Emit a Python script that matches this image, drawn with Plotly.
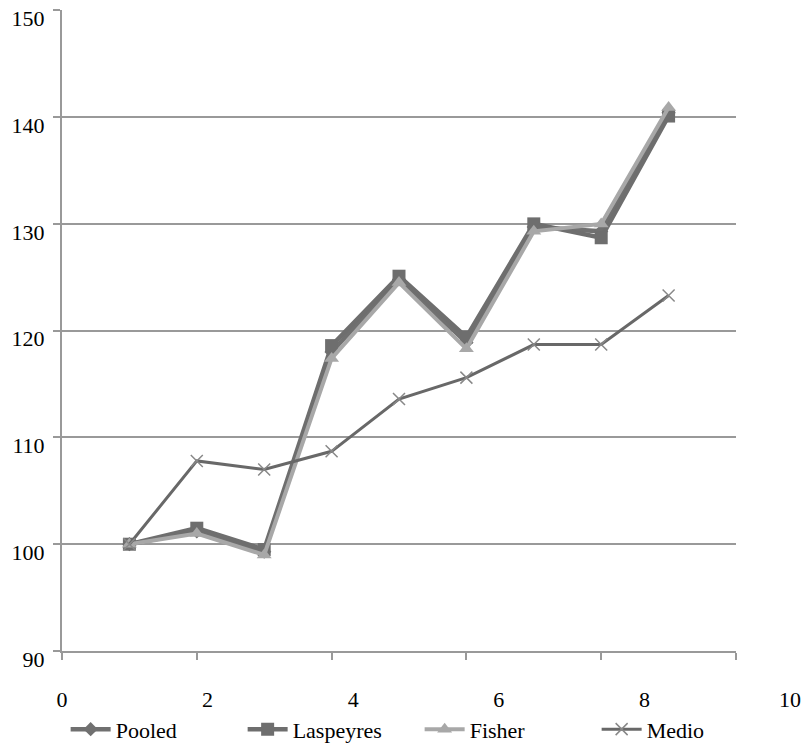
import plotly.graph_objects as go

x = [1, 2, 3, 4, 5, 6, 7, 8, 9]
pooled = [100, 101.2, 99.3, 118.0, 124.8, 118.9, 129.7, 129.3, 140.4]
laspeyres = [100, 101.5, 99.5, 118.6, 125.1, 119.4, 130.0, 128.7, 140.1]
fisher = [100, 101.0, 99.0, 117.4, 124.5, 118.3, 129.3, 130.0, 140.9]
medio = [100, 107.8, 107.0, 108.7, 113.6, 115.6, 118.7, 118.7, 123.3]

x_ticks = [0, 2, 4, 6, 8, 10]
y_ticks = [90, 100, 110, 120, 130, 140, 150]

FONT = "Liberation Serif"

fig = go.Figure()
fig.add_trace(go.Scatter(x=x, y=pooled, name="Pooled", mode="lines+markers",
                         line=dict(color="#707070", width=4.5),
                         marker=dict(symbol="diamond", size=11, color="#707070")))
fig.add_trace(go.Scatter(x=x, y=laspeyres, name="Laspeyres", mode="lines+markers",
                         line=dict(color="#6e6e6e", width=4.5),
                         marker=dict(symbol="square", size=13, color="#6e6e6e")))
fig.add_trace(go.Scatter(x=x, y=fisher, name="Fisher", mode="lines+markers",
                         line=dict(color="#a8a8a8", width=4),
                         marker=dict(symbol="triangle-up", size=13, color="#a8a8a8")))
fig.add_trace(go.Scatter(x=x, y=medio, name="Medio", mode="lines+markers",
                         line=dict(color="#686868", width=3),
                         marker=dict(symbol="x-thin", size=12, color="#888888",
                                     line=dict(width=1.5, color="#888888"))))
# empty trace so that the label axis (x2) gets drawn
fig.add_trace(go.Scatter(x=[], y=[], xaxis="x2", yaxis="y2", showlegend=False,
                         hoverinfo="skip"))

fig.update_layout(
    width=807, height=756,
    margin=dict(l=62, r=17, t=10, b=105, autoexpand=False),
    plot_bgcolor="rgba(0,0,0,0)", paper_bgcolor="white",
    font=dict(family=FONT, size=22, color="black"),
    showlegend=True,
    legend=dict(orientation="h", x=0.005, xanchor="left", y=-0.155, yanchor="bottom",
                font=dict(family=FONT, size=22), itemwidth=40, bgcolor="rgba(0,0,0,0)",
                entrywidth=122, tracegroupgap=0),
    xaxis=dict(domain=[0, 674 / 728], range=[0, 10], tickvals=x_ticks,
               showticklabels=False, showgrid=False, zeroline=False,
               showline=True, linecolor="#999999", linewidth=2, automargin=False,
               ticks="outside", ticklen=7, tickcolor="#999999", tickwidth=2),
    xaxis2=dict(domain=[0, 1], range=[0, 10], anchor="y2", side="bottom",
                tickvals=x_ticks, showgrid=False, zeroline=False, showline=False,
                ticks="", automargin=False, ticklabelstandoff=33,
                tickfont=dict(family=FONT, size=22, color="black")),
    yaxis2=dict(domain=[0, 1], range=[0, 1], anchor="x2", visible=False,
                showgrid=False, zeroline=False),
    yaxis=dict(range=[90, 150.03], tickvals=y_ticks, showgrid=True, gridcolor="#999999",
               gridwidth=2, zeroline=False, showline=True, linecolor="#999999",
               linewidth=2, automargin=False, ticks="outside", ticklen=7,
               tickcolor="#999999", tickwidth=2, ticklabeloverflow="allow",
               ticklabelshift=8, ticklabelstandoff=4),
)

post = ("document.body.style.margin='0';"
        "var s=document.createElement('style');"
        "s.innerHTML='.modebar-container{display:none !important}';"
        "document.head.appendChild(s);")
fig.write_html("out.html", post_script=post)
